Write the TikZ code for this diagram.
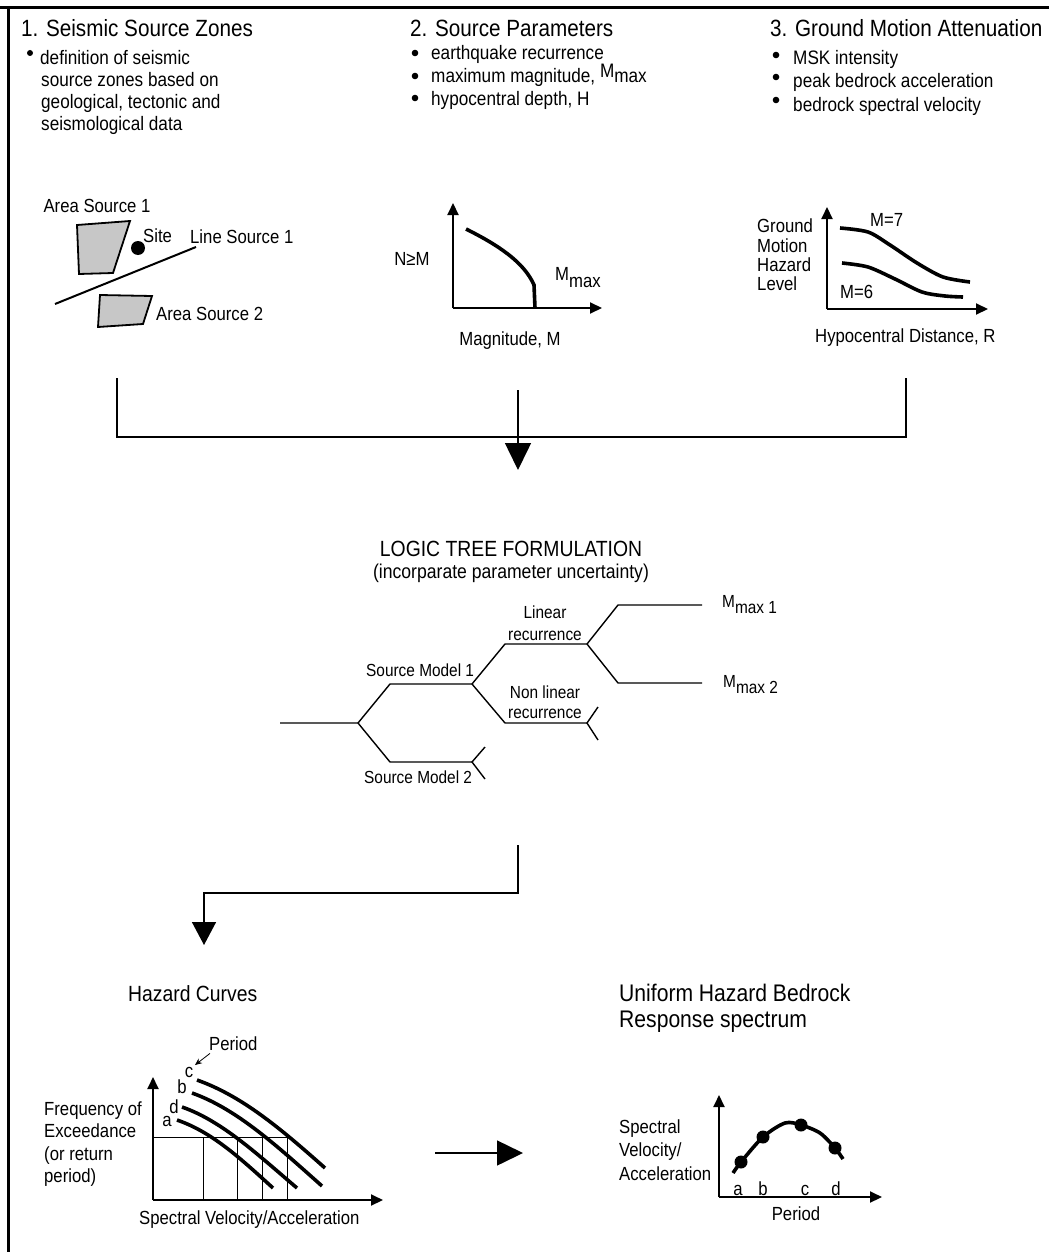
\documentclass[tikz,border=0pt]{standalone}
\usepackage{fontspec}
\setmainfont{Liberation Sans}[FakeStretch=0.88]
\usetikzlibrary{arrows.meta}
\newcommand\fTitle{\fontsize{23.5}{26}\selectfont}
\newcommand\fBody{\fontsize{19.5}{22}\selectfont}
\newcommand\fLab{\fontsize{19}{21}\selectfont}
\newcommand\fTree{\fontsize{17.5}{20}\selectfont}
\newcommand\fHead{\fontsize{22}{25}\selectfont}
\newcommand\fHeadB{\fontsize{24}{27}\selectfont}
\tikzset{
  txt/.style={inner sep=0pt, anchor=base west, font=\fLab},
  ctxt/.style={inner sep=0pt, anchor=base, font=\fLab},
  axis/.style={line width=2pt, -{Triangle[length=12pt,width=11pt]}},
  crv/.style={line width=3.6pt},
  tree/.style={line width=1.4pt},
  flow/.style={line width=1.5pt},
  bighead/.style={flow, -{Triangle[length=27pt,width=26pt]}},
  area/.style={draw, line width=1.8pt, fill=black!22},
  dot/.style={fill=black}
}
\begin{document}
\begin{tikzpicture}[x=1pt,y=-1pt]
\useasboundingbox (0,0) rectangle (1049,1252);
% frame
\draw[line width=3pt] (0,8) -- (1049,8);
\draw[line width=3pt] (8,8) -- (8,1252);

% ---------- section headers ----------
\node[txt, font=\fTitle] (t1) at (21,37) {1. Seismic Source Zones};
\fill (30,53) circle[radius=3pt];
\node[txt, font=\fBody] (t1a) at (40,65) {definition of seismic};
\node[txt, font=\fBody] (t1b) at (41,87) {source zones based on};
\node[txt, font=\fBody] (t1c) at (41,109) {geological, tectonic and};
\node[txt, font=\fBody] (t1d) at (41,131) {seismological data};

\node[txt, font=\fTitle] (t2) at (410,37) {2. Source Parameters};
\fill (415,53) circle[radius=3.3pt];
\fill (415,76) circle[radius=3.3pt];
\fill (415,98) circle[radius=3.3pt];
\node[txt, font=\fBody] (t2a) at (431,60) {earthquake recurrence};
\node[txt, font=\fBody] (t2b) at (431,83) {maximum magnitude, \raisebox{5pt}{M}max};
\node[txt, font=\fBody] (t2c) at (431,106) {hypocentral depth, H};

\node[txt, font=\fTitle] (t3) at (770,37) {3. Ground Motion Attenuation};
\fill (776,55) circle[radius=3.3pt];
\fill (776,77) circle[radius=3.3pt];
\fill (776,100) circle[radius=3.3pt];
\node[txt, font=\fBody] (t3a) at (793,65) {MSK intensity};
\node[txt, font=\fBody] (t3b) at (793,88) {peak bedrock acceleration};
\node[txt, font=\fBody] (t3c) at (793,112) {bedrock spectral velocity};

% ---------- source zones sketch ----------
\node[ctxt] (as1) at (97,212) {Area Source 1};
\draw[area] (77,225) -- (130,221) -- (113,273) -- (79,274) -- cycle;
\fill (138,248) circle[radius=7pt];
\node[txt] (site) at (143,242) {Site};
\coordinate (ls1) at (55,304);
\coordinate (ls2) at (196,247);
\draw[line width=2pt] (ls1) -- (ls2);
\node[txt] (lsl) at (190,243) {Line Source 1};
\draw[area] (100,295) -- (152,296) -- (143,324) -- (98,327) -- cycle;
\node[txt] (as2) at (156,320) {Area Source 2};

% ---------- recurrence graph ----------
\coordinate (g2o) at (453,308);
\coordinate (g2y) at (453,203);
\coordinate (g2x) at (602,308);
\draw[axis] (g2o) -- (g2y);
\draw[axis] (g2o) -- (g2x);
\draw[crv] (466,229) .. controls (498,245) and (524,262) .. (534,285) -- (535,308);
\node[ctxt] (nm) at (412,265) {N≥M};
\node[txt] (mmx) at (555,280) {M\raisebox{-7pt}{max}};
\node[ctxt] (mag) at (510,345) {Magnitude, M};

% ---------- attenuation graph ----------
\coordinate (g3o) at (827,309);
\coordinate (g3y) at (827,207);
\coordinate (g3x) at (988,309);
\draw[axis] (g3o) -- (g3y);
\draw[axis] (g3o) -- (g3x);
\draw[crv] plot[smooth] coordinates {(840,228) (868,232) (890,245) (917,263) (943,277) (970,282)};
\draw[crv] plot[smooth] coordinates {(842,263) (868,267) (895,279) (922,292) (945,296) (963,297)};
\node[txt] (gm1) at (757,232) {Ground};
\node[txt] (gm2) at (757,252) {Motion};
\node[txt] (gm3) at (757,271) {Hazard};
\node[txt] (gm4) at (757,290) {Level};
\node[txt] (m7) at (870,226) {M=7};
\node[txt] (m6) at (840,298) {M=6};
\node[txt] (hyp) at (815,342) {Hypocentral Distance, R};

% ---------- collecting bracket ----------
\coordinate (b1) at (117,378);
\coordinate (b1d) at (117,437);
\coordinate (b3) at (906,378);
\coordinate (b3d) at (906,437);
\coordinate (b2) at (518,390);
\coordinate (b2t) at (518,470);
\draw[flow] (b1) -- (b1d) -- (b3d) -- (b3);
\draw[bighead] (b2) -- (b2t);

% ---------- logic tree ----------
\node[ctxt, font=\fHead] (ltf) at (511,556) {LOGIC TREE FORMULATION};
\node[ctxt, font=\fontsize{20}{22}\selectfont] (ltf2) at (511,578) {(incorparate parameter uncertainty)};
\coordinate (r0) at (280,723);
\coordinate (n0) at (358,723);
\coordinate (n1s) at (390,684); \coordinate (n1) at (472,684);
\coordinate (n2s) at (390,762); \coordinate (n2) at (472,762);
\coordinate (n2a) at (485,747); \coordinate (n2b) at (485,779);
\coordinate (n3s) at (505,644); \coordinate (n3) at (587,644);
\coordinate (n4s) at (505,723); \coordinate (n4) at (587,723);
\coordinate (n4a) at (598,707); \coordinate (n4b) at (598,740);
\coordinate (n5s) at (618,605); \coordinate (n5) at (702,605);
\coordinate (n6s) at (618,683); \coordinate (n6) at (702,683);
\draw[tree] (r0) -- (n0) -- (n1s) -- (n1);
\draw[tree] (n0) -- (n2s) -- (n2);
\draw[tree] (n2a) -- (n2) -- (n2b);
\draw[tree] (n1) -- (n3s) -- (n3);
\draw[tree] (n1) -- (n4s) -- (n4);
\draw[tree] (n4a) -- (n4) -- (n4b);
\draw[tree] (n3) -- (n5s) -- (n5);
\draw[tree] (n3) -- (n6s) -- (n6);
\node[txt, font=\fTree] (sm1) at (366,676) {Source Model 1};
\node[txt, font=\fTree] (sm2) at (364,783) {Source Model 2};
\node[ctxt, font=\fTree] (lr1) at (545,618) {Linear};
\node[ctxt, font=\fTree] (lr2) at (545,640) {recurrence};
\node[ctxt, font=\fTree] (nl1) at (545,698) {Non linear};
\node[ctxt, font=\fTree] (nl2) at (545,718) {recurrence};
\node[txt, font=\fTree] (mx1) at (722,607) {M\raisebox{-6pt}{max 1}};
\node[txt, font=\fTree] (mx2) at (723,687) {M\raisebox{-6pt}{max 2}};

% ---------- to hazard curves ----------
\coordinate (h0) at (518,845);
\coordinate (h1) at (518,893);
\coordinate (h2) at (204,893);
\coordinate (h3) at (204,945);
\draw[flow, -{Triangle[length=23pt,width=24pt]}] (h0) -- (h1) -- (h2) -- (h3);

% ---------- hazard curves ----------
\node[txt, font=\fHead] (hc) at (128,1001) {Hazard Curves};
\coordinate (g4o) at (153,1200);
\coordinate (g4y) at (153,1077);
\coordinate (g4x) at (383,1200);
\draw[line width=0.6pt] (153,1137) -- (287,1137);
\foreach \gx in {203,237,262,287} \draw[line width=0.6pt] (\gx,1137) -- (\gx,1200);
\draw[axis] (g4o) -- (g4y);
\draw[axis] (g4o) -- (g4x);
\draw[crv] (197,1080) .. controls (242,1096) and (280,1128) .. (325,1168);
\draw[crv] (192,1093) .. controls (237,1109) and (277,1146) .. (322,1186);
\draw[crv] (182,1107) .. controls (222,1121) and (257,1154) .. (297,1188);
\draw[crv] (177,1120) .. controls (212,1132) and (240,1158) .. (273,1188);
\node[ctxt] (lc) at (189,1077) {c};
\node[ctxt] (lb) at (182,1093) {b};
\node[ctxt] (ld) at (174,1113) {d};
\node[ctxt] (la) at (167,1126) {a};
\node[txt] (per) at (209,1050) {Period};
\draw[line width=0.8pt, -{Stealth[length=7pt,width=6pt]}] (per.south west) ++(1,3) -- (195,1065);
\node[txt] (fe1) at (44,1115) {Frequency of};
\node[txt] (fe2) at (44,1137) {Exceedance};
\node[txt] (fe3) at (44,1160) {(or return};
\node[txt] (fe4) at (44,1182) {period)};
\node[txt] (sva) at (139,1224) {Spectral Velocity/Acceleration};

% ---------- arrow to spectrum ----------
\coordinate (ar0) at (435,1153);
\coordinate (ar1) at (523,1153);
\draw[flow, -{Triangle[length=26pt,width=25pt]}] (ar0) -- (ar1);

% ---------- uniform hazard spectrum ----------
\node[txt, font=\fHeadB] (uh1) at (619,1001) {Uniform Hazard Bedrock};
\node[txt, font=\fHeadB] (uh2) at (619,1027) {Response spectrum};
\coordinate (g5o) at (719,1197);
\coordinate (g5y) at (719,1095);
\coordinate (g5x) at (882,1197);
\draw[axis] (g5o) -- (g5y);
\draw[axis] (g5o) -- (g5x);
\coordinate (pa) at (741,1162);
\coordinate (pb) at (763,1137);
\coordinate (pc) at (801,1125);
\coordinate (pd) at (835,1148);
\draw[crv] plot[smooth] coordinates {(733,1173) (pa) (pb) (785,1123) (pc) (820,1133) (pd) (843,1159)};
\foreach \p in {pa,pb,pc,pd} \fill (\p) circle[radius=6.5pt];
\node[ctxt] (xa) at (738,1195) {a};
\node[ctxt] (xb) at (763,1195) {b};
\node[ctxt] (xc) at (805,1195) {c};
\node[ctxt] (xd) at (836,1195) {d};
\node[txt] (sv1) at (619,1133) {Spectral};
\node[txt] (sv2) at (619,1156) {Velocity/};
\node[txt] (sv3) at (619,1180) {Acceleration};
\node[ctxt] (pp) at (796,1220) {Period};
\end{tikzpicture}
\end{document}
